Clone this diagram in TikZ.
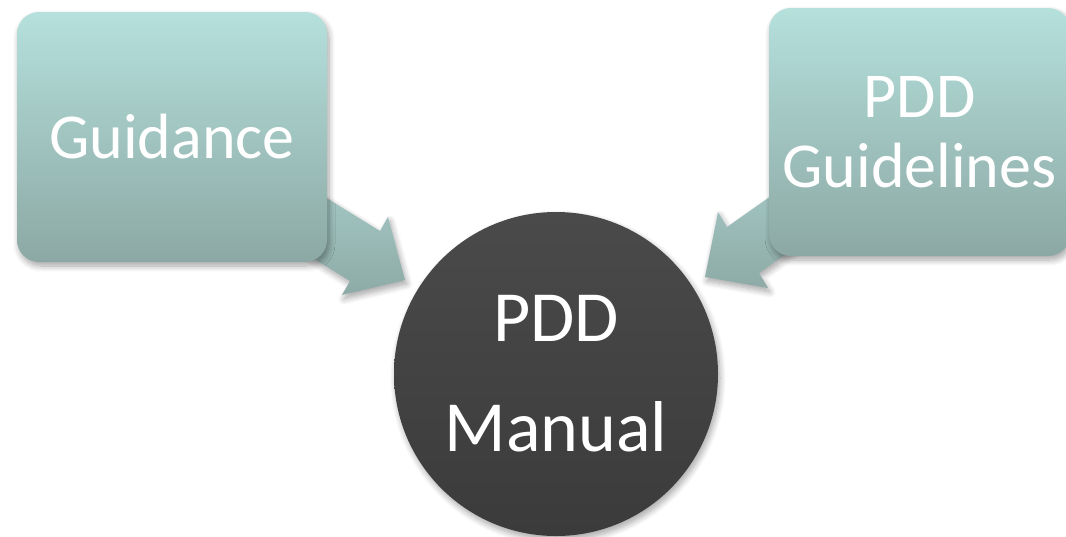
\documentclass[tikz,border=0pt]{standalone}
\usepackage{fontspec}
\setmainfont{Carlito}
\usetikzlibrary{shadows.blur}
\definecolor{tealtop}{HTML}{B5E0DC}
\definecolor{tealbot}{HTML}{8CA8A4}
\definecolor{arrtop}{HTML}{A8CDC9}
\definecolor{arrbot}{HTML}{8DAAA6}
\definecolor{darktop}{HTML}{4A4A4A}
\definecolor{darkbot}{HTML}{3B3B3B}
\tikzset{
  softshadow/.style={blur shadow={shadow xshift=2pt, shadow yshift=-4pt, shadow opacity=35, shadow blur radius=6pt, shadow blur steps=8}},
  boxnode/.style={rounded corners=22pt, top color=tealtop, bottom color=tealbot, draw=none, text=white, align=center, inner sep=0pt, softshadow},
  blockarrow/.style={top color=arrtop, bottom color=arrbot, draw=none, softshadow},
  hubnode/.style={circle, top color=darktop, bottom color=darkbot, draw=none, text=white, align=center, inner sep=0pt, minimum size=324pt, softshadow},
  boxfont/.style={font=\fontsize{64}{70}\selectfont},
  hubfont/.style={font=\fontsize{72}{110}\selectfont}
}
\begin{document}
\begin{tikzpicture}[x=1pt,y=-1pt]
\useasboundingbox (0,0) rectangle (1066,536);
\clip (0,0) rectangle (1066,536);
% block arrows (behind boxes)
\path[blockarrow] (278,168) -- (380,231) -- (388,217) -- (405,280) -- (342,295) -- (350,281) -- (248,218) -- cycle;
\path[blockarrow] (825,158) -- (727,227) -- (718,212) -- (705,277) -- (768,288) -- (759,273) -- (857,203) -- cycle;
% boxes
\node[boxnode, boxfont, minimum width=310pt, minimum height=250pt] (guid) at (172,137) {Guidance};
\node[boxnode, boxfont, minimum width=301pt, minimum height=248pt] (pddg) at (919.5,132) {PDD\\Guidelines};
% hub
\node[hubnode, hubfont] (man) at (556,374) {PDD\\Manual};
\end{tikzpicture}
\end{document}
